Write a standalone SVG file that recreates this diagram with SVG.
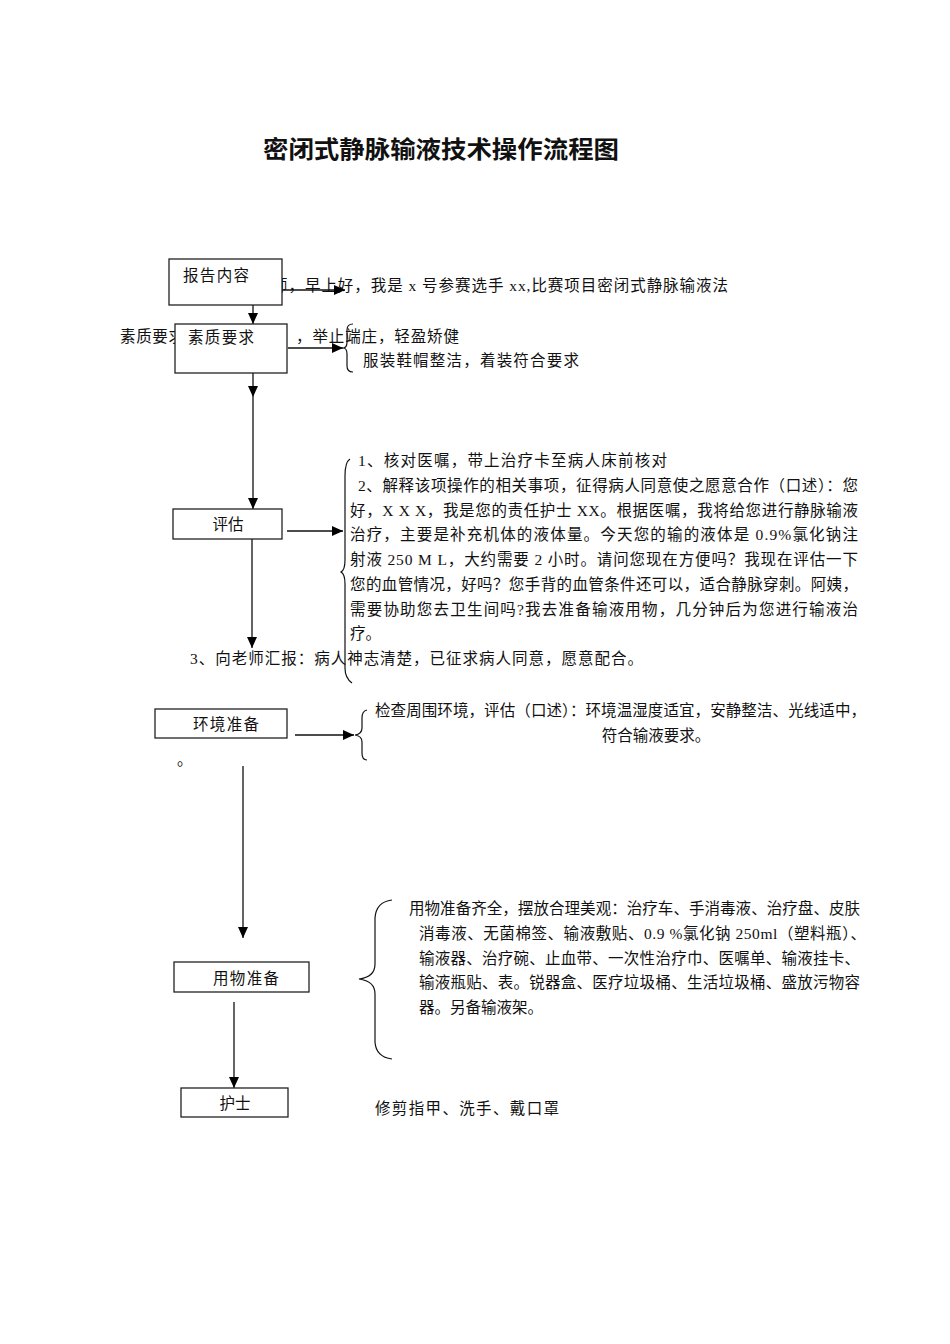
<svg xmlns="http://www.w3.org/2000/svg" width="950" height="1344" viewBox="0 0 950 1344">
<style>
text{font-family:"Liberation Serif","Noto Sans CJK SC",serif;fill:#111;font-size:15.5px}
.title{font-family:"Noto Sans CJK SC",sans-serif;font-weight:bold;font-size:24px}
.box{fill:#fff;stroke:#222;stroke-width:1.3}
.ln{fill:none;stroke:#111;stroke-width:1.3}
.br{fill:none;stroke:#111;stroke-width:1.2}
.mid{text-anchor:middle}
</style>
<defs>
<marker id="ah" markerUnits="userSpaceOnUse" markerWidth="12" markerHeight="10" refX="11" refY="5" orient="auto">
<path d="M0,0 L11,5 L0,10 z" fill="#000"/>
</marker>
</defs>
<rect width="950" height="1344" fill="#fff"/>
<text class="title" x="263" y="158" textLength="356" lengthAdjust="spacingAndGlyphs">密闭式静脉输液技术操作流程图</text>

<g id="free-text">
<text x="272" y="291" textLength="456">师，早上好，我是 x 号参赛选手 xx,比赛项目密闭式静脉输液法</text>
<text x="120" y="342" textLength="64">素质要求</text>
<text x="296" y="342" textLength="163">，举止端庄，轻盈矫健</text>
<text x="363" y="366" textLength="216">服装鞋帽整洁，着装符合要求</text>
<text x="358" y="466" textLength="309">1、核对医嘱，带上治疗卡至病人床前核对</text>
<text x="358" y="490.75" textLength="500">2、解释该项操作的相关事项，征得病人同意使之愿意合作（口述）：您</text>
<text x="350" y="515.5" textLength="508">好，X X X，我是您的责任护士 XX。根据医嘱，我将给您进行静脉输液</text>
<text x="350" y="540.25" textLength="508">治疗，主要是补充机体的液体量。今天您的输的液体是 0.9%氯化钠注</text>
<text x="350" y="565" textLength="508">射液 250 M L，大约需要 2 小时。请问您现在方便吗？我现在评估一下</text>
<text x="350" y="589.75" textLength="508">您的血管情况，好吗？您手背的血管条件还可以，适合静脉穿刺。阿姨，</text>
<text x="350" y="614.5" textLength="508">需要协助您去卫生间吗?我去准备输液用物，几分钟后为您进行输液治</text>
<text x="350" y="639.25">疗。</text>
<text x="190" y="664" textLength="453">3、向老师汇报：病人神志清楚，已征求病人同意，愿意配合。</text>
<text x="375" y="716" textLength="491">检查周围环境，评估（口述）：环境温湿度适宜，安静整洁、光线适中，</text>
<text x="656" y="741" class="mid">符合输液要求。</text>
<text x="177" y="765">。</text>
<text x="409" y="914" textLength="451">用物准备齐全，摆放合理美观：治疗车、手消毒液、治疗盘、皮肤</text>
<text x="419" y="939" textLength="447">消毒液、无菌棉签、输液敷贴、0.9 %氯化钠 250ml（塑料瓶）、</text>
<text x="419" y="964" textLength="441">输液器、治疗碗、止血带、一次性治疗巾、医嘱单、输液挂卡、</text>
<text x="419" y="988" textLength="441">输液瓶贴、表。锐器盒、医疗垃圾桶、生活垃圾桶、盛放污物容</text>
<text x="419" y="1013">器。另备输液架。</text>
<text x="375" y="1114" textLength="184">修剪指甲、洗手、戴口罩</text>
</g>

<g id="connectors">
<line class="ln" x1="282" y1="290" x2="345" y2="290" marker-end="url(#ah)"/>
<line class="ln" x1="253" y1="305" x2="253" y2="324" marker-end="url(#ah)"/>
<line class="ln" x1="288" y1="348" x2="343" y2="348" marker-end="url(#ah)"/>
<line class="ln" x1="253" y1="373" x2="253" y2="397" marker-end="url(#ah)"/>
<line class="ln" x1="253" y1="397" x2="253" y2="509" marker-end="url(#ah)"/>
<line class="ln" x1="287" y1="531" x2="343" y2="531" marker-end="url(#ah)"/>
<line class="ln" x1="252" y1="539" x2="252" y2="648" marker-end="url(#ah)"/>
<line class="ln" x1="295" y1="735" x2="354" y2="735" marker-end="url(#ah)"/>
<line class="ln" x1="243" y1="766" x2="243" y2="938" marker-end="url(#ah)"/>
<line class="ln" x1="234" y1="1002" x2="234" y2="1088" marker-end="url(#ah)"/>
<path class="br" d="M353,324 Q347,324 347,330 L347,342 Q347,348 343,348 Q347,348 347,354 L347,366 Q347,372 353,372"/>
<path class="br" d="M350,459 Q345,462 345,476 L345,560 Q345,570 341,572 Q345,574 345,584 L345,668 Q345,678 352,683"/>
<path class="br" d="M367,710 Q362,711 362,718 L362,728 Q362,734 355,735 Q362,736 362,742 L362,753 Q362,760 367,760"/>
<path class="br" d="M392,900 Q376,902 375,918 L375,964 Q375,977 359,979 Q375,981 375,994 L375,1042 Q376,1057 392,1059"/>
</g>

<g id="n-report"><rect class="box" x="169" y="259" width="113" height="46"/><text x="183" y="281" textLength="66">报告内容</text></g>
<g id="n-quality"><rect class="box" x="175" y="324" width="112" height="49"/><text x="188" y="343" textLength="66">素质要求</text></g>
<g id="n-assess"><rect class="box" x="173" y="509" width="109" height="30"/><text x="228" y="530" class="mid">评估</text></g>
<g id="n-env"><rect class="box" x="155" y="709" width="132" height="29"/><text x="193" y="730" textLength="66">环境准备</text></g>
<g id="n-supplies"><rect class="box" x="174" y="962" width="135" height="30"/><text x="213" y="984" textLength="66">用物准备</text></g>
<g id="n-nurse"><rect class="box" x="181" y="1088" width="107" height="29"/><text x="235" y="1109" class="mid">护士</text></g>
</svg>
